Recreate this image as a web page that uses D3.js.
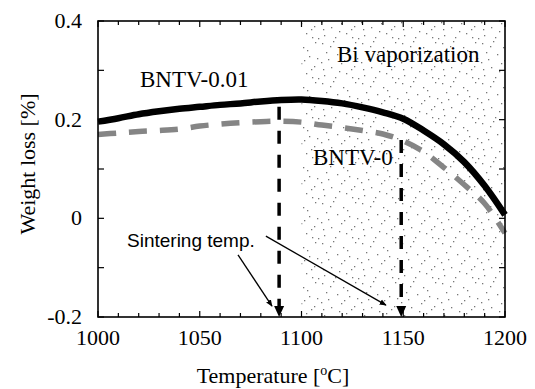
<!DOCTYPE html>
<html>
<head>
<meta charset="utf-8">
<script src="https://cdn.jsdelivr.net/npm/d3@7"></script>
<style>
  body { margin: 0; background: #fff; }
  svg { display: block; }
  .serif { font-family: "Liberation Serif", "Times New Roman", serif; }
  .sans { font-family: "Liberation Sans", Arial, sans-serif; }
</style>
</head>
<body>
<svg id="chart"></svg>
<script>
// data
var temps = [1000, 1010, 1020, 1030, 1040, 1050, 1060, 1070, 1080, 1090, 1100,
             1110, 1120, 1130, 1140, 1150, 1160, 1170, 1180, 1190, 1200];
var bntv001 = [0.196, 0.203, 0.211, 0.217, 0.222, 0.226, 0.230, 0.233, 0.237, 0.240, 0.241,
               0.238, 0.233, 0.225, 0.215, 0.202, 0.178, 0.150, 0.114, 0.066, 0.007];
var bntv0 = [0.170, 0.173, 0.176, 0.178, 0.181, 0.187, 0.191, 0.194, 0.196, 0.197, 0.195,
             0.189, 0.184, 0.178, 0.171, 0.157, 0.135, 0.103, 0.068, 0.030, -0.030];
var xTicks = [1000, 1050, 1100, 1150, 1200];
var yTicks = [-0.2, 0, 0.2, 0.4];
var yTickLabels = ["-0.2", "0", "0.2", "0.4"];
var vaporRange = [1100, 1200];
// sintering temperatures: [temp, top of arrow]
var sintering = [[1089, 0.226], [1149, 0.159]];
// pointer lines from the label: [[t0, v0], [t1, v1]]
var pointers = [[[1068.8, -0.074], [1085.5, -0.178]],
                [[1082.5, -0.036], [1141.5, -0.176]]];

var width = 535, height = 389;
var margin = {left: 98, top: 21, right: 30, bottom: 72};

var x = d3.scaleLinear().domain([1000, 1200]).range([margin.left, width - margin.right]);
var y = d3.scaleLinear().domain([-0.2, 0.4]).range([height - margin.bottom, margin.top]);

var svg = d3.select("#chart")
    .attr("width", width)
    .attr("height", height);

var defs = svg.append("defs");

// stippled texture for the Bi vaporization region
var dots = [[2,3],[13,1],[23,7],[35,2],[6,12],[17,14],[29,16],[1,22],[11,27],[21,23],
            [34,26],[4,35],[15,37],[26,33],[38,38],[8,19],[27,10],[19,31],[37,18],[31,29],
            [10,6],[32,37],[3,29],[24,20]];
var pat = defs.append("pattern")
    .attr("id", "stipple")
    .attr("patternUnits", "userSpaceOnUse")
    .attr("width", 40)
    .attr("height", 40);
pat.selectAll("rect")
    .data(dots)
    .enter().append("rect")
    .attr("x", function(d) { return d[0]; })
    .attr("y", function(d) { return d[1]; })
    .attr("width", 1.3)
    .attr("height", 1.3)
    .attr("fill", "#777");

defs.append("marker")
    .attr("id", "arrowSmall")
    .attr("viewBox", "0 0 10 10")
    .attr("refX", 9).attr("refY", 5)
    .attr("markerWidth", 7).attr("markerHeight", 7)
    .attr("markerUnits", "userSpaceOnUse")
    .attr("orient", "auto")
    .append("path")
    .attr("d", "M0,1 L10,5 L0,9 Z")
    .attr("fill", "#000");

svg.append("rect")
    .attr("x", x(vaporRange[0]))
    .attr("y", y(0.4))
    .attr("width", x(vaporRange[1]) - x(vaporRange[0]))
    .attr("height", y(-0.2) - y(0.4))
    .attr("fill", "url(#stipple)");

var line = d3.line()
    .x(function(d, i) { return x(temps[i]); })
    .y(function(d) { return y(d); })
    .curve(d3.curveCatmullRom);

// BNTV-0 dashed grey
svg.append("path")
    .datum(bntv0)
    .attr("d", line)
    .attr("fill", "none")
    .attr("stroke", "#858585")
    .attr("stroke-width", 5.5)
    .attr("stroke-dasharray", "18,13");

// BNTV-0.01 solid black
svg.append("path")
    .datum(bntv001)
    .attr("d", line)
    .attr("fill", "none")
    .attr("stroke", "#000")
    .attr("stroke-width", 6.5);

// vertical dashed arrows at sintering temps
sintering.forEach(function(s) {
    svg.append("line")
        .attr("x1", x(s[0])).attr("x2", x(s[0]))
        .attr("y1", y(s[1])).attr("y2", y(-0.2) - 10)
        .attr("stroke", "#000")
        .attr("stroke-width", 3.5)
        .attr("stroke-dasharray", "13,11");
    svg.append("path")
        .attr("d", "M" + (x(s[0]) - 5) + "," + (y(-0.2) - 11) +
                   " L" + (x(s[0]) + 5) + "," + (y(-0.2) - 11) +
                   " L" + x(s[0]) + "," + y(-0.2) + " Z")
        .attr("fill", "#000");
});

// thin pointers from the label
pointers.forEach(function(p) {
    svg.append("line")
        .attr("x1", x(p[0][0])).attr("y1", y(p[0][1]))
        .attr("x2", x(p[1][0])).attr("y2", y(p[1][1]))
        .attr("stroke", "#000")
        .attr("stroke-width", 1.3)
        .attr("marker-end", "url(#arrowSmall)");
});

// frame and ticks
var g = svg.append("g");
var x0 = x.range()[0], x1 = x.range()[1], y0 = y.range()[0], y1 = y.range()[1];

var xMinor = d3.range(1000, 1201, 10);
var yMinor = d3.range(-0.2, 0.401, 0.1);

xMinor.forEach(function(t) {
    var len = (t % 50 === 0) ? 6 : 4;
    g.append("line").attr("x1", x(t)).attr("x2", x(t)).attr("y1", y0).attr("y2", y0 - len)
        .attr("stroke", "#000").attr("stroke-width", 1.2);
    g.append("line").attr("x1", x(t)).attr("x2", x(t)).attr("y1", y1).attr("y2", y1 + len)
        .attr("stroke", "#000").attr("stroke-width", 1.2);
});
yMinor.forEach(function(v) {
    g.append("line").attr("x1", x0).attr("x2", x0 + 6).attr("y1", y(v)).attr("y2", y(v))
        .attr("stroke", "#000").attr("stroke-width", 1.2);
    g.append("line").attr("x1", x1).attr("x2", x1 - 6).attr("y1", y(v)).attr("y2", y(v))
        .attr("stroke", "#000").attr("stroke-width", 1.2);
});

g.append("rect")
    .attr("x", x0).attr("y", y1)
    .attr("width", x1 - x0).attr("height", y0 - y1)
    .attr("fill", "none")
    .attr("stroke", "#000")
    .attr("stroke-width", 1.6);

// tick labels
svg.selectAll(".xlab")
    .data(xTicks)
    .enter().append("text")
    .attr("class", "serif")
    .attr("x", function(d) { return x(d); })
    .attr("y", y0 + 28)
    .attr("text-anchor", "middle")
    .attr("font-size", 22)
    .text(function(d) { return d; });

svg.selectAll(".ylab")
    .data(yTicks)
    .enter().append("text")
    .attr("class", "serif")
    .attr("x", x0 - 16)
    .attr("y", function(d) { return y(d) + 7; })
    .attr("text-anchor", "end")
    .attr("font-size", 22)
    .text(function(d, i) { return yTickLabels[i]; });

// axis titles
var xt = svg.append("text")
    .attr("class", "serif")
    .attr("x", 273)
    .attr("y", 383)
    .attr("text-anchor", "middle")
    .attr("font-size", 22);
xt.append("tspan").text("Temperature [");
xt.append("tspan").attr("font-size", 14).attr("dy", -8).text("o");
xt.append("tspan").attr("dy", 8).text("C]");

svg.append("text")
    .attr("class", "serif")
    .attr("transform", "translate(35,164) rotate(-90)")
    .attr("text-anchor", "middle")
    .attr("font-size", 22)
    .text("Weight loss [%]");

// annotations
svg.append("text").attr("class", "serif")
    .attr("x", 140).attr("y", 87).attr("font-size", 23)
    .text("BNTV-0.01");
svg.append("text").attr("class", "serif")
    .attr("x", 337).attr("y", 62).attr("font-size", 23)
    .text("Bi vaporization");
svg.append("text").attr("class", "serif")
    .attr("x", 313).attr("y", 165).attr("font-size", 23)
    .text("BNTV-0");
svg.append("text").attr("class", "sans")
    .attr("x", 127).attr("y", 247).attr("font-size", 19)
    .text("Sintering temp.");
</script>
</body>
</html>
